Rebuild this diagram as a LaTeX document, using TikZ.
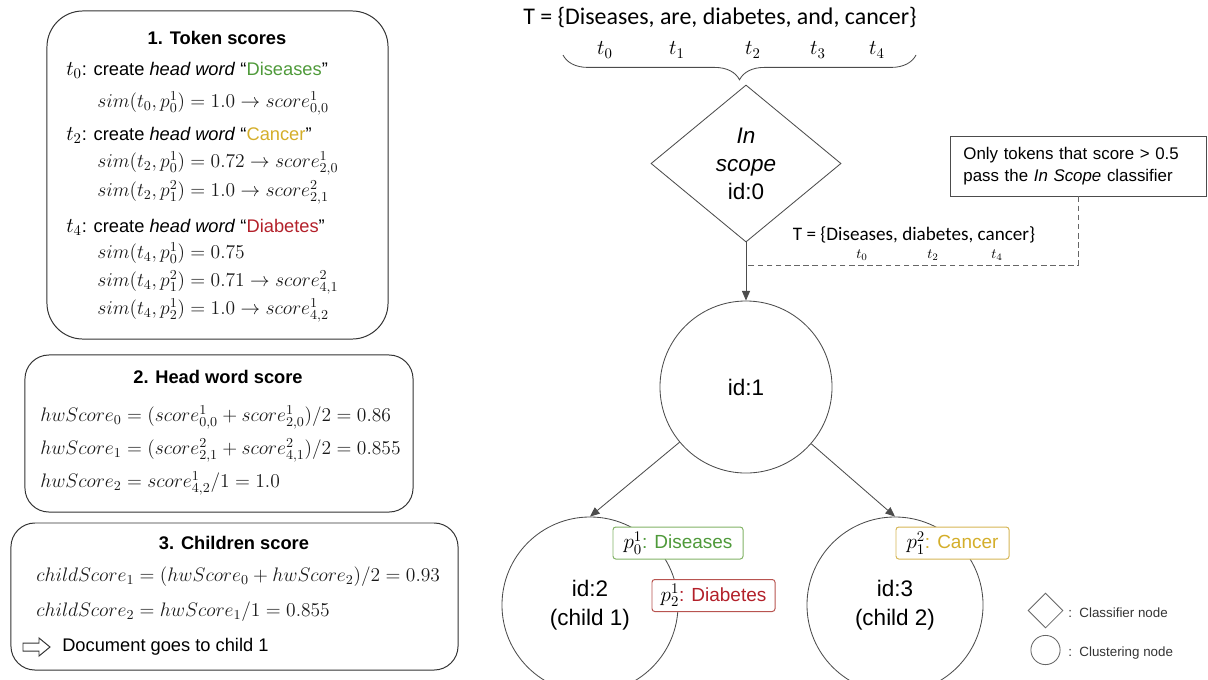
\RequirePackage{fix-cm}
\documentclass[tikz,border=0pt]{standalone}
\usepackage{amsmath}
\usepackage[no-math]{fontspec}
\setmainfont{Liberation Sans}
\newfontfamily\tokfont{Carlito}
\usepackage{xcolor}
\usepackage{tikz}
\usetikzlibrary{shapes.geometric, arrows.meta, positioning, calc, decorations.pathreplacing}
\definecolor{wordgreen}{HTML}{4F9A3A}
\definecolor{wordgold}{HTML}{D4AE2A}
\definecolor{wordred}{HTML}{B3202A}
\definecolor{taggreen}{HTML}{82B366}
\definecolor{taggold}{HTML}{D6B656}
\definecolor{tagred}{HTML}{B85450}
\newcommand{\tvar}[1]{{\fontsize{15}{15}\selectfont$#1$}}

\begin{document}
\begin{tikzpicture}[x=0.025cm, y=-0.025cm, font=\fontsize{13}{15}\selectfont,
  >={Triangle[length=2.4mm, width=2mm]},
  panel/.style={draw=black!80, line width=0.7pt, rounded corners=0.6cm},
  headline/.style={font=\bfseries\fontsize{13}{15}\selectfont},
  tline/.style={anchor=west, inner sep=0pt},
  mline/.style={anchor=west, inner sep=0pt, text=black!90, font=\fontsize{13.9}{15}\selectfont},
  treenode/.style={draw=black!70, line width=0.6pt, circle, minimum size=4.4cm, align=center, font=\fontsize{16}{20.5}\selectfont},
  ptag/.style={rounded corners=2pt, fill=white, line width=0.7pt, minimum height=0.8cm, inner xsep=4pt, font=\fontsize{13.5}{15}\selectfont},
  edge/.style={draw=black!70, line width=0.6pt, ->},
  legtext/.style={anchor=west, inner sep=0pt, text=black!80, font=\fontsize{9.5}{11}\selectfont}]
\useasboundingbox (0,0) rectangle (1208,679);

% 1. token scores
\node[panel, rounded corners=0.9cm, minimum width=8.525cm, minimum height=8.2cm] (tokbox) at (217.5,175) {};
\node[headline] (toktitle) at (217,38) {1. Token scores};
\node[tline] (t0line) at (66,70) {\tvar{t_0}: create \textit{head word} “\textcolor{wordgreen}{Diseases}”};
\node[mline] (s00) at (97,103) {$sim(t_0, p_0^1) = 1.0 \rightarrow score_{0,0}^1$};
\node[tline] (t2line) at (66,135) {\tvar{t_2}: create \textit{head word} “\textcolor{wordgold}{Cancer}”};
\node[mline] (s20) at (97,163) {$sim(t_2, p_0^1) = 0.72 \rightarrow score_{2,0}^1$};
\node[mline] (s21) at (97,192) {$sim(t_2, p_1^2) = 1.0 \rightarrow score_{2,1}^2$};
\node[tline] (t4line) at (66,227) {\tvar{t_4}: create \textit{head word} “\textcolor{wordred}{Diabetes}”};
\node[mline] (s40) at (97,253) {$sim(t_4, p_0^1) = 0.75$};
\node[mline] (s41) at (97,282) {$sim(t_4, p_1^2) = 0.71 \rightarrow score_{4,1}^2$};
\node[mline] (s42) at (97,310) {$sim(t_4, p_2^1) = 1.0 \rightarrow score_{4,2}^1$};

% 2. head word score
\node[panel, minimum width=9.7cm, minimum height=3.925cm] (hwbox) at (219,433.5) {};
\node[headline] (hwtitle) at (218,377) {2. Head word score};
\node[mline] (hw0) at (40,417) {$hwScore_0 = (score_{0,0}^1 + score_{2,0}^1)/2 = 0.86$};
\node[mline] (hw1) at (40,450) {$hwScore_1 = (score_{2,1}^2 + score_{4,1}^2)/2 = 0.855$};
\node[mline] (hw2) at (40,483) {$hwScore_2 = score_{4,2}^1/1 = 1.0$};

% 3. children score
\node[panel, minimum width=11.175cm, minimum height=3.675cm] (chbox) at (234.5,596.5) {};
\node[headline] (chtitle) at (234,543) {3. Children score};
\node[mline] (ch1) at (36,577) {$childScore_1 = (hwScore_0 + hwScore_2)/2 = 0.93$};
\node[mline] (ch2) at (36,612) {$childScore_2 = hwScore_1/1 = 0.855$};
\draw[draw=black!80, line width=0.7pt, line join=miter] (23,643) -- (39,643) -- (39,638) -- (50,647) -- (39,656) -- (39,651) -- (23,651) -- cycle;
\node[tline] (golabel) at (62,647) {Document goes to child 1};

% tokens and brace
\node[font=\tokfont\fontsize{17}{19}\selectfont] (alltok) at (720,17) {T = \{Diseases, are, diabetes, and, cancer\}};
\node[font=\fontsize{15}{16}\selectfont] (tk0) at (605,50) {$t_0$};
\node[font=\fontsize{15}{16}\selectfont] (tk1) at (677,50) {$t_1$};
\node[font=\fontsize{15}{16}\selectfont] (tk2) at (753,50) {$t_2$};
\node[font=\fontsize{15}{16}\selectfont] (tk3) at (818,50) {$t_3$};
\node[font=\fontsize{15}{16}\selectfont] (tk4) at (877,50) {$t_4$};
\coordinate (bracel) at (563,55);
\coordinate (bracer) at (916,55);
\draw[draw=black!70, line width=0.6pt, decorate, decoration={brace, mirror, amplitude=0.62cm}] (bracel) -- (bracer);

% classifier
\node[draw=black!70, line width=0.6pt, diamond, aspect=1.21, minimum width=4.75cm, minimum height=3.925cm, inner sep=0pt, align=center, font=\fontsize{16}{20}\selectfont] (scope) at (746,163.5) {\textit{In}\\\textit{scope}\\id:0};
\node[draw=black!70, line width=0.6pt, align=left, text width=5.75cm, inner xsep=0.325cm, minimum height=1.5cm, font=\fontsize{12}{15.5}\selectfont] (note) at (1078.5,166) {Only tokens that score > 0.5\\pass the \textit{In Scope} classifier};
\node[font=\tokfont\fontsize{13.6}{15}\selectfont] (sometok) at (914,235) {T = \{Diseases, diabetes, cancer\}};
\node[font=\fontsize{10}{12}\selectfont] (sk0) at (862,255) {$t_0$};
\node[font=\fontsize{10}{12}\selectfont] (sk2) at (933,255) {$t_2$};
\node[font=\fontsize{10}{12}\selectfont] (sk4) at (997,255) {$t_4$};
\coordinate (join) at (746,265);
\draw[draw=black!60, line width=0.6pt, dash pattern=on 4pt off 2.5pt] (note.south) |- (join);

% clustering nodes
\node[treenode, minimum size=4.3cm] (n1) at (746,387) {id:1};
\node[treenode] (n2) at (590,605) {id:2\\(child 1)};
\node[treenode] (n3) at (895,605) {id:3\\(child 2)};
\draw[edge] (scope) -- (n1);
\draw[edge] (n1) -- (n2.north);
\draw[edge] (n1) -- (n3.north);

% head word tags
\node[ptag, draw=taggreen, minimum width=3.25cm] (pdis) at (678,543) {\tvar{p_0^1}\textcolor{wordgreen}{: Diseases}};
\node[ptag, draw=tagred, minimum width=3.075cm] (pdia) at (713.5,595.5) {\tvar{p_2^1}\textcolor{wordred}{: Diabetes}};
\node[ptag, draw=taggold, minimum width=2.825cm] (pcan) at (952.5,543) {\tvar{p_1^2}\textcolor{wordgold}{ : Cancer}};

% legend
\node[draw=black!60, line width=0.6pt, diamond, minimum size=0.875cm, inner sep=0pt] (legdia) at (1045.5,610.5) {};
\node[legtext] (legdialbl) at (1068,613) {:\ \ Classifier node};
\node[draw=black!60, line width=0.6pt, circle, minimum size=0.73cm, inner sep=0pt] (legcirc) at (1045.5,650) {};
\node[legtext] (legcirclbl) at (1068,653) {:\ \ Clustering node};
\end{tikzpicture}
\end{document}
